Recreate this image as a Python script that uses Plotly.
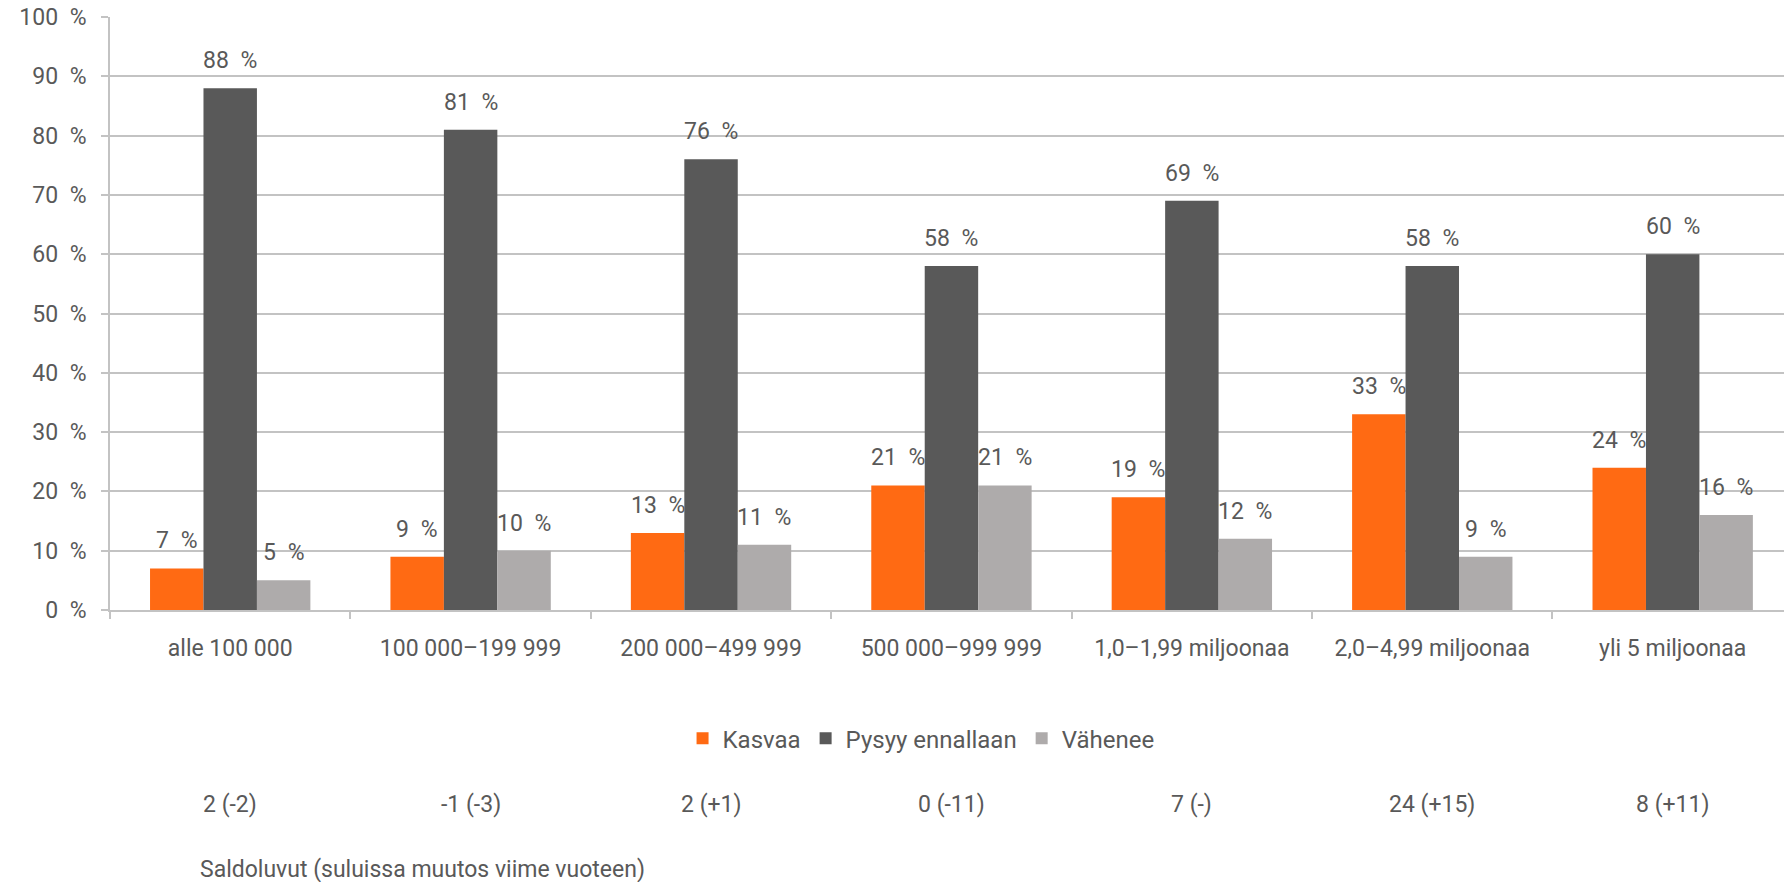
import plotly.graph_objects as go

categories = ["alle 100 000", "100 000–199 999", "200 000–499 999", "500 000–999 999",
              "1,0–1,99 miljoonaa", "2,0–4,99 miljoonaa", "yli 5 miljoonaa"]
kasvaa = [7, 9, 13, 21, 19, 33, 24]
pysyy = [88, 81, 76, 58, 69, 58, 60]
vahenee = [5, 10, 11, 21, 12, 9, 16]
saldo = ["2 (-2)", "-1 (-3)", "2 (+1)", "0 (-11)", "7 (-)", "24 (+15)", "8 (+11)"]
series_names = ["Kasvaa", "Pysyy ennallaan", "Vähenee"]
colors = ["#FF6A13", "#595959", "#AEABAB"]
y_ticks = list(range(0, 101, 10))
saldo_title = "Saldoluvut (suluissa muutos viime vuoteen)"

FONT = "Roboto, 'Open Sans', sans-serif"
FS = 23
TXT = "#595959"
GRID = "#C3C3C3"
W, H = 1784, 882
ML, MR, MT, MB = 110, 0, 17, 272
x_range = [-0.5, 6.463]
bargap = 0.333

fig = go.Figure()
series = [kasvaa, pysyy, vahenee]
for name, vals, col in zip(series_names, series, colors):
    fig.add_trace(go.Bar(x=categories, y=vals, name=name, marker_color=col,
                         marker_line_width=0))

# data labels
plot_w = W - ML - MR
cat_px = plot_w / (x_range[1] - x_range[0])
bar_px = cat_px * (1 - bargap) / 3
annotations = []
for j, vals in enumerate(series):
    for i, v in enumerate(vals):
        annotations.append(dict(x=categories[i], y=v, xref="x", yref="y",
                                text=f"{v}\u2002%", showarrow=False,
                                xshift=(j - 1) * bar_px, yshift=12,
                                yanchor="bottom", xanchor="center",
                                font=dict(family=FONT, size=FS, color=TXT)))
for i, s in enumerate(saldo):
    annotations.append(dict(x=categories[i], y=-0.328, xref="x", yref="paper",
                            text=s, showarrow=False, yanchor="middle",
                            font=dict(family=FONT, size=FS, color=TXT)))
annotations.append(dict(x=0.0525, y=-0.438, xref="paper", yref="paper",
                        text=saldo_title, showarrow=False, xanchor="left",
                        yanchor="middle",
                        font=dict(family=FONT, size=FS, color=TXT)))

fig.update_layout(
    width=W, height=H,
    margin=dict(l=ML, r=MR, t=MT, b=MB),
    paper_bgcolor="white", plot_bgcolor="white",
    barmode="group", bargap=bargap, bargroupgap=0,
    font=dict(family=FONT, size=FS, color=TXT),
    legend=dict(orientation="h", x=0.4845, xanchor="center", y=-0.217,
                yanchor="middle", font=dict(family=FONT, size=24, color=TXT),
                itemwidth=30, traceorder="normal"),
    annotations=annotations,
)
fig.update_xaxes(type="category", range=x_range, showline=True, linecolor=GRID,
                 linewidth=1.5, ticks="outside", tickson="boundaries", ticklen=7,
                 tickcolor=GRID, tickwidth=1.5, showgrid=False,
                 tickfont=dict(family=FONT, size=FS, color=TXT),
                 ticklabelstandoff=17)
fig.update_yaxes(range=[0, 100], tickvals=y_ticks,
                 ticktext=[f"{t}\u2002%" for t in y_ticks],
                 showline=True, linecolor=GRID, linewidth=1.5, ticks="outside",
                 ticklen=7, tickcolor=GRID, tickwidth=1.5, showgrid=True,
                 gridcolor=GRID, gridwidth=1.5, zeroline=False,
                 tickfont=dict(family=FONT, size=FS, color=TXT),
                 ticklabelstandoff=10, ticklabeloverflow="allow")

fig.write_html("out.html", config={"displayModeBar": False},
               post_script="document.body.style.margin='0';"
                           "document.body.style.overflow='hidden';")
